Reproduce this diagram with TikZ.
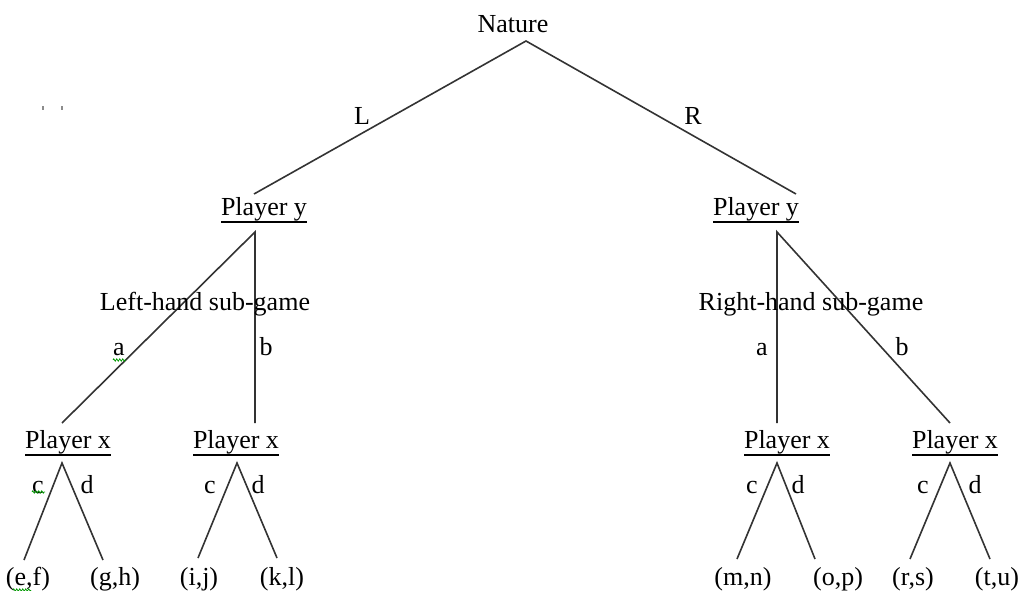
\documentclass[tikz,border=0pt]{standalone}
\usepackage{fontspec}
\setmainfont{Liberation Serif}
\usetikzlibrary{decorations.pathmorphing}
% underlined player label with a heavier rule
\newcommand\plabel[1]{\leavevmode\vtop{\hbox{#1}\kern0.6pt\hrule height 1.8pt}}
\begin{document}
\begin{tikzpicture}[x=1pt,y=-1pt,
  every node/.style={inner sep=0pt,outer sep=0pt,anchor=base,font=\fontsize{26}{30}\selectfont},
  branch/.style={line width=1.6pt,draw=black!80},
  spell/.style={draw=green!60!black,line width=0.7pt,
    decorate,decoration={zigzag,segment length=3pt,amplitude=1.2pt}},
  speck/.style={fill=black!45,draw=none}]
\useasboundingbox (0,0) rectangle (1018,591);

% decision nodes
\node (nat) at (513,33) {Nature};
\node (yL)  at (264,215) {\plabel{Player y}};
\node (yR)  at (756,215) {\plabel{Player y}};
\node (x1)  at (68,448)  {\plabel{Player x}};
\node (x2)  at (236,448) {\plabel{Player x}};
\node (x3)  at (787,448) {\plabel{Player x}};
\node (x4)  at (955,448) {\plabel{Player x}};

% payoffs
\node (p1) at (28,585)  {(e,f)};
\node (p2) at (115,585) {(g,h)};
\node (p3) at (199,585) {(i,j)};
\node (p4) at (282,585) {(k,l)};
\node (p5) at (743,585) {(m,n)};
\node (p6) at (838,585) {(o,p)};
\node (p7) at (913,585) {(r,s)};
\node (p8) at (997,585) {(t,u)};

% branch points
\coordinate (nat0) at (526,41);
\coordinate (yL0) at (255,232);
\coordinate (yR0) at (777,232);
\coordinate (yLin) at (254,194);
\coordinate (yRin) at (796,194);
\coordinate (x1in) at (62,423);
\coordinate (x2in) at (255,423);
\coordinate (x3in) at (777,423);
\coordinate (x4in) at (950,423);
\coordinate (x10) at (62,463);
\coordinate (x20) at (237,463);
\coordinate (x30) at (777,463);
\coordinate (x40) at (950,463);
\coordinate (p1in) at (24,560);
\coordinate (p2in) at (103,560);
\coordinate (p3in) at (198,558);
\coordinate (p4in) at (277,558);
\coordinate (p5in) at (737,559);
\coordinate (p6in) at (815,559);
\coordinate (p7in) at (910,559);
\coordinate (p8in) at (990,559);

% branches
\draw[branch] (yLin) -- (nat0) -- (yRin);
\draw[branch] (x1in) -- (yL0) -- (x2in);
\draw[branch] (x3in) -- (yR0) -- (x4in);
\draw[branch] (p1in) -- (x10) -- (p2in);
\draw[branch] (p3in) -- (x20) -- (p4in);
\draw[branch] (p5in) -- (x30) -- (p6in);
\draw[branch] (p7in) -- (x40) -- (p8in);

% move labels
\node (lL) at (362,125) {L};
\node (lR) at (693,125) {R};
\node (subL) at (205,310) {Left-hand sub-game};
\node (subR) at (811,310) {Right-hand sub-game};
\node (la1) at (119,355) {a};
\node (lb1) at (266,355) {b};
\node (la2) at (762,355) {a};
\node (lb2) at (902,355) {b};
\node (lc1) at (38,493)  {c};
\node (ld1) at (87,493)  {d};
\node (lc2) at (210,493) {c};
\node (ld2) at (258,493) {d};
\node (lc3) at (752,493) {c};
\node (ld3) at (798,493) {d};
\node (lc4) at (923,493) {c};
\node (ld4) at (975,493) {d};

% proofing marks and specks
\draw[spell] (113,360) -- (126,360);
\draw[spell] (32,492) -- (45,492);
\draw[spell] (13,590) -- (31,590);
\fill[speck] (42.3,106) rectangle (43.7,110);
\fill[speck] (61.3,106) rectangle (62.7,110);
\end{tikzpicture}
\end{document}
